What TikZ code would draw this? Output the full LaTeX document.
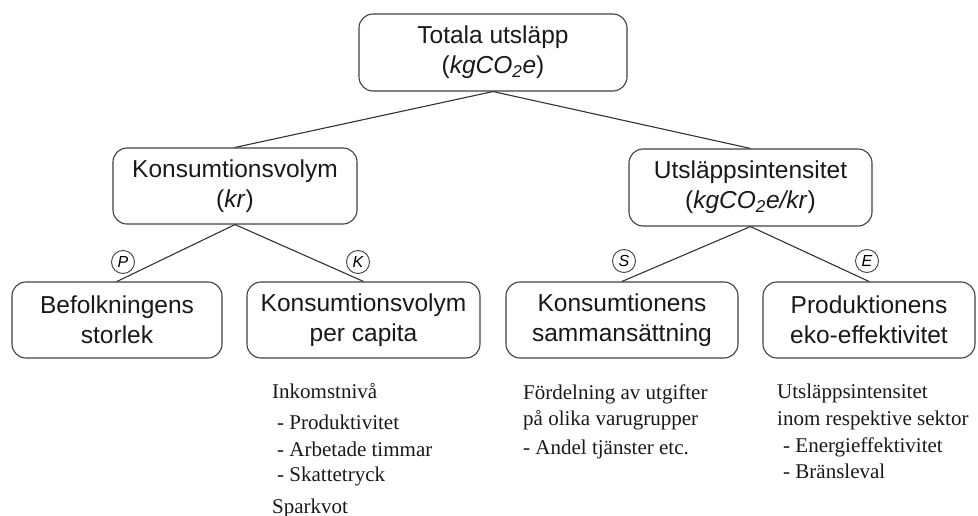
\documentclass[tikz,border=0pt]{standalone}
\usepackage{fontspec}
\setmainfont{Liberation Serif}
\setsansfont{Liberation Sans}
\begin{document}
\begin{tikzpicture}[x=1pt,y=-1pt,
  box/.style={draw=black!75, line width=1.1pt, rounded corners=14pt, align=center,
    font=\sffamily\fontsize{24.5}{30}\selectfont, text=black!90, inner sep=0pt},
  conn/.style={draw=black!80, line width=1.1pt},
  tag/.style={draw=black!75, line width=0.9pt, circle, minimum size=23pt, inner sep=0pt,
    font=\sffamily\itshape\fontsize{16}{16}\selectfont},
  note/.style={anchor=base west, inner sep=0pt, font=\fontsize{21}{21}\selectfont, text=black!90}]
\useasboundingbox (0,0) rectangle (978,516);
% boxes
\node[box, minimum width=268pt, minimum height=77pt] (top) at (493,52.5) {Totala utsläpp\\(\textit{kgCO\textsubscript{2}e})};
\node[box, minimum width=244pt, minimum height=76pt] (kv) at (235,186) {Konsumtionsvolym\\(\textit{kr})};
\node[box, minimum width=243pt, minimum height=77pt] (ui) at (750.5,187.5) {Utsläppsintensitet\\(\textit{kgCO\textsubscript{2}e/kr})};
\node[box, minimum width=210pt, minimum height=76pt] (b1) at (117,320) {Befolkningens\\storlek};
\node[box, minimum width=233pt, minimum height=76pt] (b2) at (363.5,320) {Konsumtionsvolym\\per capita};
\node[box, minimum width=232pt, minimum height=76pt] (b3) at (622,320) {Konsumtionens\\sammansättning};
\node[box, minimum width=212pt, minimum height=76pt] (b4) at (869,320) {Produktionens\\eko-effektivitet};
% connectors
\draw[conn] (top.south) -- (kv.north);
\draw[conn] (top.south) -- (ui.north);
\draw[conn] (kv.south) -- (b1.north);
\draw[conn] (kv.south) -- (b2.north);
\draw[conn] (ui.south) -- (b3.north);
\draw[conn] (ui.south) -- (b4.north);
% tags
\node[tag] (tp) at (123,262) {P};
\node[tag] (tk) at (358,262) {K};
\node[tag] (ts) at (624,261) {S};
\node[tag] (te) at (867,261) {E};
% notes column 1
\node[note] (n11) at (272,398) {Inkomstnivå};
\node[note] (n12) at (277,429) {- Produktivitet};
\node[note] (n13) at (277,456) {- Arbetade timmar};
\node[note] (n14) at (277,481) {- Skattetryck};
\node[note] (n15) at (272,513) {Sparkvot};
% notes column 2
\node[note] (n21) at (523,399) {Fördelning av utgifter};
\node[note] (n22) at (523,425) {på olika varugrupper};
\node[note] (n23) at (523,454) {- Andel tjänster etc.};
% notes column 3
\node[note] (n31) at (777,398) {Utsläppsintensitet};
\node[note] (n32) at (777,425) {inom respektive sektor};
\node[note] (n33) at (783,452) {- Energieffektivitet};
\node[note] (n34) at (783,478) {- Bränsleval};
\end{tikzpicture}
\end{document}
